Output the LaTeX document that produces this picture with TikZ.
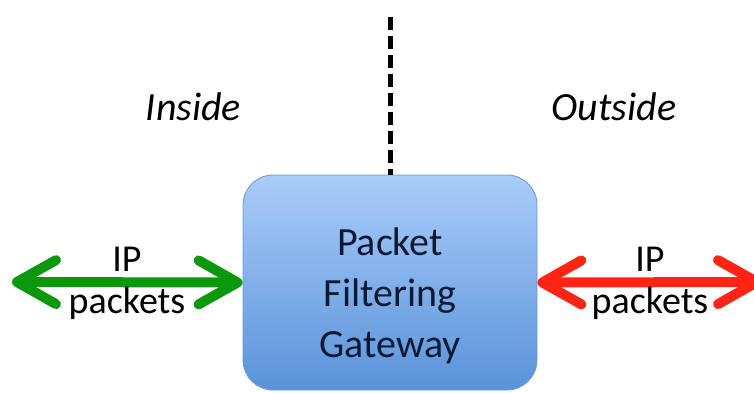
\documentclass[tikz,border=0pt]{standalone}
\usepackage{fontspec}
\setmainfont{Carlito}
\usetikzlibrary{arrows.meta}
\definecolor{boxtop}{HTML}{A9CCF8}
\definecolor{boxbot}{HTML}{5A93DA}
\definecolor{boxedge}{HTML}{6F97CA}
\definecolor{boxtext}{HTML}{0E1A33}
\definecolor{grn}{HTML}{0C980C}
\definecolor{rd}{HTML}{FF2414}
\tikzset{
  gatebox/.style={draw=boxedge, line width=0.8pt, rounded corners=30pt,
    top color=boxtop, bottom color=boxbot, minimum width=294pt, minimum height=215pt, inner sep=0pt},
  gatetext/.style={text=boxtext, font=\fontsize{40}{51}\selectfont, align=center, inner sep=0pt},
  zonelabel/.style={font=\fontsize{40}{46}\selectfont\itshape, text=black, anchor=base},
  pktlabel/.style={font=\fontsize{38}{42}\selectfont, text=black, align=center, inner sep=0pt},
  boundary/.style={line width=5pt, dash pattern=on 13pt off 6pt},
  flow/.style={line width=10pt, {Straight Barb[length=39pt,width=44pt,round]}-{Straight Barb[length=39pt,width=44pt,round]}}
}
\begin{document}
\begin{tikzpicture}[x=1pt,y=-1pt]
\useasboundingbox (0,0) rectangle (754,392);
\node[gatebox] (gw) at (390,282.5) {};
\node[gatetext] (gwt) at (390,296) {Packet\\Filtering\\Gateway};
\coordinate (top) at (390,17);
\draw[boundary] (top) -- (gw.north);
\node[zonelabel] (in) at (193.5,120) {Inside};
\node[zonelabel] (out) at (614,120) {Outside};
\coordinate (lend) at (12,282);
\coordinate (rend) at (762,282);
\draw[flow, grn] (lend) -- (gw.west);
\draw[flow, rd] (gw.east) -- (rend);
\node[pktlabel] (lp) at (127,283) {IP\\packets};
\node[pktlabel] (rp) at (650,283) {IP\\packets};
\end{tikzpicture}
\end{document}
